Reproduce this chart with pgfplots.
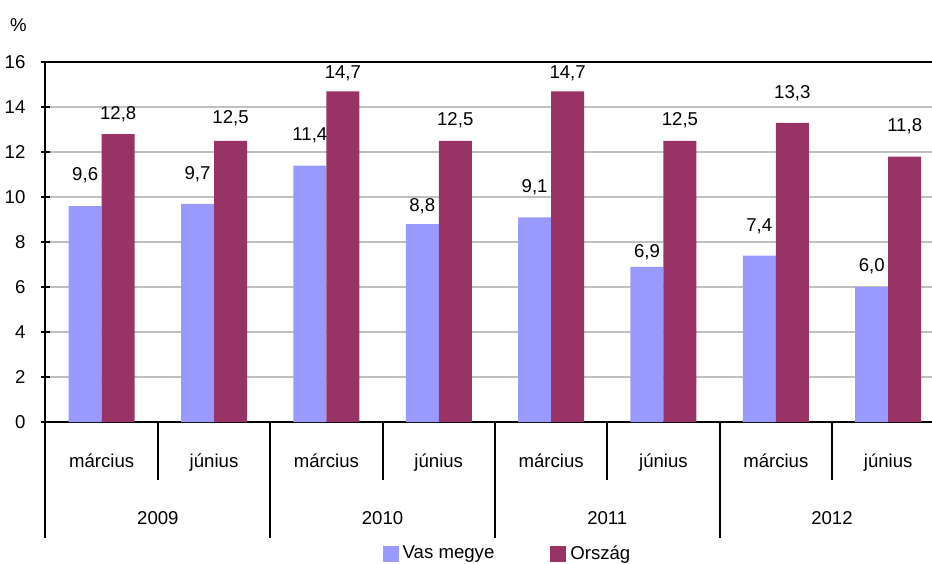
\documentclass[border=0pt]{standalone}
\usepackage{pgfplots}
\pgfplotsset{compat=1.18}
\usepackage{pgfplotstable}
\usepackage{fontspec}
\setmainfont{Liberation Sans}

\definecolor{vas}{HTML}{9999FF}
\definecolor{orszag}{HTML}{993366}
\definecolor{racs}{HTML}{C0C0C0}

% x = period index, y = value, off = label distance above bar (px of reference)
\pgfplotstableread{
x  y     off
0  9.6   32
1  9.7   31
2  11.4  32
3  8.8   19
4  9.1   31
5  6.9   16
6  7.4   31
7  6.0   22
}\vasdata
\pgfplotstableread{
x  y     off
0  12.8  21
1  12.5  24
2  14.7  19
3  12.5  22
4  14.7  19
5  12.5  22
6  13.3  31
7  11.8  32
}\orszagdata

\begin{document}
\begin{tikzpicture}[font=\fontsize{9.3}{11}\selectfont]
\useasboundingbox (-22.75pt,-70.5pt) rectangle (443.25pt,211pt);
\begin{axis}[
  at={(0,0)}, anchor=south west,
  scale only axis, width=443.25pt, height=180pt,
  xmin=-0.5, xmax=7.39, ymin=0, ymax=16,
  enlargelimits=false, clip=false,
  /pgf/number format/assume math mode=true,
  ytick={0,2,...,16},
  xtick={0,...,7},
  xticklabels={március,június,március,június,március,június,március,június},
  x tick style={draw=none},
  xticklabel style={anchor=base, yshift=-18.5pt},
  yticklabel style={xshift=-4.5pt},
  y tick style={black, line width=0.8pt},
  major tick length=4pt, tick align=outside,
  axis x line=box, axis y line=left,
  y axis line style={-},
  axis line style={line width=1pt, black},
  ymajorgrids, major grid style={racs, line width=0.8pt},
  ybar=0pt, bar width=16.5pt,
  legend style={at={(0.5223,-0.3667)}, anchor=center, draw=none, fill=none,
    legend columns=2, /tikz/every even column/.append style={column sep=26pt}},
  legend image code/.code={\fill[#1] (0pt,-4pt) rectangle (8pt,4pt);},
  nodes near coords={\pgfmathprintnumber[fixed,fixed zerofill,precision=1,use comma,assume math mode=true]{\pgfplotspointmeta}},
  point meta=y,
]
\addplot[fill=vas, draw=none,
  visualization depends on={\thisrow{off} \as \off},
  every node near coord/.append style={anchor=base, text=black, yshift={(0.5*\off-3.3)*1pt}}]
  table[x=x, y=y] {\vasdata};
\addlegendentry{Vas megye}
\addplot[fill=orszag, draw=none,
  visualization depends on={\thisrow{off} \as \off},
  every node near coord/.append style={anchor=base, text=black, yshift={(0.5*\off-3.3)*1pt}}]
  table[x=x, y=y] {\orszagdata};
\addlegendentry{Ország}

% separators under the axis
\pgfplotsinvokeforeach{0.5,2.5,4.5,6.5}{
  \draw[line width=1pt] (axis cs:#1,0) -- ([yshift=-29pt]axis cs:#1,0);
}
\pgfplotsinvokeforeach{-0.5,1.5,3.5,5.5}{
  \draw[line width=1pt] (axis cs:#1,0) -- ([yshift=-58pt]axis cs:#1,0);
}
\node[anchor=base] at (axis cs:0.5,0) [yshift=-51pt] {2009};
\node[anchor=base] at (axis cs:2.5,0) [yshift=-51pt] {2010};
\node[anchor=base] at (axis cs:4.5,0) [yshift=-51pt] {2011};
\node[anchor=base] at (axis cs:6.5,0) [yshift=-51pt] {2012};
\node at (rel axis cs:0,1) [xshift=-13.6pt, yshift=18.35pt] {\%};
\end{axis}
\end{tikzpicture}
\end{document}
